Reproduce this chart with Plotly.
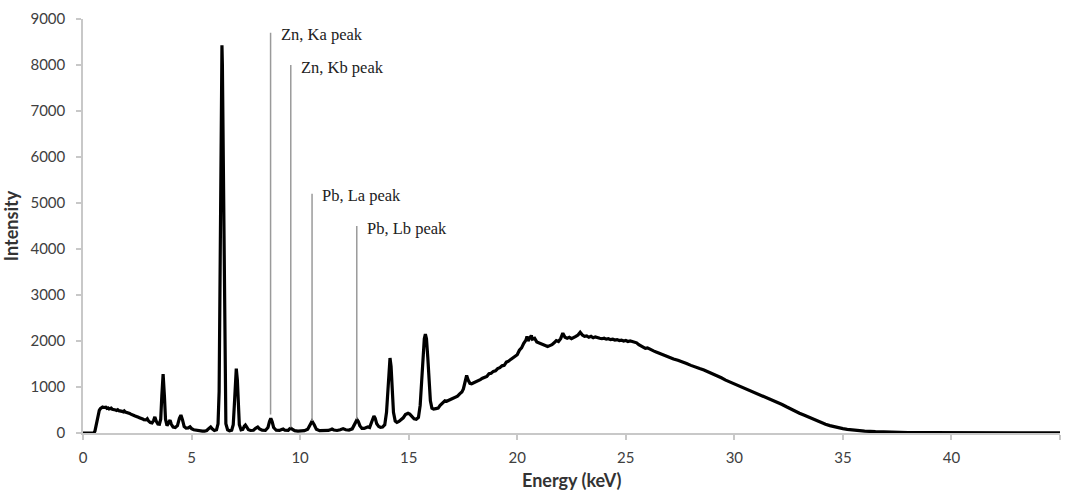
import plotly.graph_objects as go

# XRF spectrum (energy in keV, intensity in counts)
energy_kev = [
    0.0, 0.5, 0.55, 0.6, 0.65, 0.7, 0.75, 0.8, 0.85, 0.9,
    0.95, 1.0, 1.05, 1.1, 1.15, 1.2, 1.25, 1.3, 1.35, 1.4,
    1.45, 1.5, 1.55, 1.6, 1.65, 1.7, 1.75, 1.8, 1.85, 1.9,
    1.95, 2.0, 2.05, 2.1, 2.15, 2.2, 2.25, 2.3, 2.35, 2.4,
    2.45, 2.5, 2.55, 2.6, 2.65, 2.7, 2.75, 2.8, 2.85, 2.9,
    2.96, 3.02, 3.1, 3.18, 3.25, 3.31, 3.37, 3.45, 3.52, 3.58,
    3.63, 3.69, 3.75, 3.8, 3.87, 3.95, 4.01, 4.07, 4.15, 4.25,
    4.35, 4.44, 4.51, 4.58, 4.66, 4.75, 4.85, 4.93, 5.0, 5.1,
    5.2, 5.3, 5.4, 5.5, 5.6, 5.7, 5.8, 5.88, 5.95, 6.05,
    6.15, 6.22, 6.27, 6.31, 6.35, 6.38, 6.4, 6.42, 6.45, 6.49,
    6.53, 6.58, 6.66, 6.75, 6.85, 6.92, 6.97, 7.01, 7.06, 7.11,
    7.15, 7.2, 7.28, 7.36, 7.43, 7.48, 7.53, 7.62, 7.72, 7.85,
    7.95, 8.05, 8.13, 8.25, 8.4, 8.52, 8.59, 8.65, 8.71, 8.78,
    8.9, 9.05, 9.15, 9.22, 9.3, 9.45, 9.52, 9.57, 9.63, 9.75,
    9.9, 10.05, 10.2, 10.35, 10.45, 10.55, 10.65, 10.75, 10.9, 11.1,
    11.3, 11.42, 11.47, 11.55, 11.7, 11.85, 11.98, 12.1, 12.25, 12.4,
    12.5, 12.56, 12.62, 12.68, 12.75, 12.85, 12.95, 13.05, 13.12, 13.2,
    13.28, 13.34, 13.4, 13.46, 13.53, 13.62, 13.7, 13.8, 13.9, 13.98,
    14.04, 14.09, 14.14, 14.19, 14.24, 14.3, 14.38, 14.46, 14.55, 14.65,
    14.75, 14.85, 14.97, 15.05, 15.15, 15.25, 15.35, 15.45, 15.53, 15.6,
    15.66, 15.72, 15.77, 15.82, 15.88, 15.94, 16.0, 16.07, 16.15, 16.25,
    16.36, 16.45, 16.55, 16.67, 16.75, 16.85, 16.95, 17.05, 17.15, 17.25,
    17.35, 17.45, 17.52, 17.6, 17.67, 17.74, 17.82, 17.9, 18.0, 18.1,
    18.2, 18.3, 18.4, 18.5, 18.6, 18.7, 18.8, 18.9, 19.0, 19.1,
    19.2, 19.3, 19.4, 19.5, 19.6, 19.7, 19.8, 19.9, 20.0, 20.1,
    20.2, 20.3, 20.4, 20.45, 20.5, 20.6, 20.65, 20.7, 20.8, 20.9,
    21.0, 21.1, 21.2, 21.3, 21.4, 21.5, 21.6, 21.7, 21.8, 21.9,
    22.0, 22.1, 22.2, 22.3, 22.4, 22.5, 22.6, 22.7, 22.8, 22.9,
    23.0, 23.1, 23.2, 23.3, 23.4, 23.5, 23.6, 23.7, 23.8, 23.9,
    24.0, 24.1, 24.2, 24.3, 24.4, 24.5, 24.6, 24.7, 24.8, 24.9,
    25.0, 25.1, 25.2, 25.3, 25.4, 25.5, 25.6, 25.7, 25.8, 25.9,
    26.0, 26.1, 26.2, 26.3, 26.4, 26.6, 26.8, 27.0, 27.2, 27.4,
    27.6, 27.8, 28.0, 28.2, 28.4, 28.6, 28.8, 29.0, 29.2, 29.4,
    29.6, 29.8, 30.0, 30.2, 30.4, 30.6, 30.8, 31.0, 31.2, 31.4,
    31.6, 31.8, 32.0, 32.2, 32.4, 32.6, 32.8, 33.0, 33.2, 33.4,
    33.6, 33.8, 34.0, 34.2, 34.4, 34.6, 34.8, 35.0, 35.2, 35.4,
    35.6, 35.8, 36.0, 36.5, 37.0, 37.5, 38.0, 39.0, 40.0, 41.0,
    42.0, 43.0, 44.0, 45.0,
]
intensity = [
    0, 0, 40, 150, 300, 420, 490, 530, 555, 565,
    555, 550, 560, 535, 545, 525, 530, 540, 515, 510,
    520, 500, 490, 505, 485, 480, 490, 470, 460, 480,
    455, 450, 440, 430, 425, 410, 405, 395, 380, 370,
    365, 350, 345, 330, 325, 310, 305, 290, 280, 285,
    310, 260, 230, 220, 270, 350, 260, 195, 190, 300,
    800, 1280, 800, 300, 160, 220, 280, 190, 130, 120,
    160, 320, 390, 290, 140, 105, 110, 135, 95, 70,
    60, 50, 45, 40, 40, 55, 100, 130, 90, 55,
    70, 200, 900, 3000, 6500, 8000, 8430, 8000, 6500, 3000,
    900, 200, 70, 50, 60, 180, 600, 1150, 1400, 1150,
    600, 180, 70, 80, 150, 175, 140, 70, 55, 60,
    100, 130, 90, 60, 55, 120, 250, 320, 250, 120,
    60, 55, 75, 85, 60, 55, 90, 105, 85, 50,
    40, 40, 50, 80, 180, 255, 180, 80, 50, 45,
    55, 75, 85, 65, 55, 70, 95, 70, 65, 90,
    180, 260, 290, 250, 160, 100, 100, 120, 130, 120,
    230, 330, 370, 320, 200, 140, 125, 130, 180, 450,
    1000, 1450, 1630, 1450, 1000, 450, 260, 230, 250, 280,
    330, 400, 430, 410, 360, 310, 300, 340, 600, 1100,
    1650, 2050, 2150, 2050, 1650, 1100, 700, 540, 520, 530,
    540, 600, 640, 700, 690, 710, 730, 750, 780, 800,
    850, 890, 960, 1150, 1250, 1150, 1080, 1070, 1090, 1110,
    1130, 1160, 1190, 1220, 1230, 1290, 1300, 1340, 1350, 1400,
    1420, 1460, 1470, 1540, 1560, 1600, 1640, 1680, 1700, 1800,
    1850, 1950, 2020, 2100, 2000, 2080, 2120, 2040, 2060, 1980,
    1960, 1930, 1920, 1900, 1880, 1900, 1920, 1960, 2010, 1990,
    2050, 2170, 2080, 2060, 2080, 2050, 2070, 2100, 2130, 2190,
    2130, 2100, 2110, 2080, 2100, 2070, 2090, 2070, 2060, 2050,
    2060, 2040, 2050, 2030, 2040, 2020, 2030, 2010, 2020, 2000,
    2010, 1990, 2000, 1990, 1980, 1960, 1920, 1890, 1860, 1840,
    1850, 1820, 1800, 1780, 1760, 1720, 1690, 1640, 1610, 1580,
    1550, 1510, 1470, 1430, 1400, 1370, 1330, 1280, 1240, 1200,
    1150, 1110, 1060, 1030, 990, 950, 900, 860, 820, 780,
    740, 700, 660, 620, 570, 520, 480, 430, 390, 350,
    300, 260, 220, 190, 160, 135, 115, 95, 78, 65,
    55, 45, 40, 28, 20, 14, 10, 6, 4, 3,
    2, 2, 1, 1,
]
assert len(energy_kev) == len(intensity)

# Peak markers
marker_labels = ["Zn, Ka peak", "Zn, Kb peak", "Pb, La peak", "Pb, Lb peak"]
marker_energy = [8.64, 9.57, 10.55, 12.61]
marker_top = [8700, 8000, 5200, 4500]
marker_bottom = [400, 120, 260, 300]

x_ticks = [0, 5, 10, 15, 20, 25, 30, 35, 40, 45]
y_ticks = [0, 1000, 2000, 3000, 4000, 5000, 6000, 7000, 8000, 9000]

fig = go.Figure()
fig.add_trace(go.Scatter(
    x=energy_kev, y=intensity, mode="lines",
    line=dict(color="black", width=3.2), showlegend=False, hoverinfo="skip",
))

for lab, xe, yt, yb in zip(marker_labels, marker_energy, marker_top, marker_bottom):
    fig.add_shape(type="line", xref="x", yref="y", x0=xe, x1=xe, y0=yb, y1=yt,
                  line=dict(color="#9a9a9a", width=1.5))
    fig.add_annotation(x=xe, y=yt, xref="x", yref="y", text=lab, showarrow=False,
                       xanchor="left", yanchor="middle", xshift=8, yshift=-2,
                       font=dict(family="Liberation Serif", size=16.5, color="#222"))

tick_font = dict(family="Lato", size=15, color="#404040")
title_font = dict(family="Lato", size=18, color="#333")

# x-axis title placed as a paper annotation so the plot area stays fixed
fig.add_annotation(x=0.5, y=0, xref="paper", yref="paper", text="<b>Energy (keV)</b>",
                   showarrow=False, xanchor="center", yanchor="top", yshift=-34,
                   font=title_font)

fig.update_layout(
    width=1067, height=491,
    margin=dict(l=83, r=7, t=19, b=58, autoexpand=False),
    paper_bgcolor="white", plot_bgcolor="white",
    font=tick_font,
    xaxis=dict(
        range=[0, 45], tickvals=x_ticks, ticktext=[str(v) for v in x_ticks],
        showgrid=False, zeroline=False, showline=True, linecolor="#c8c8c8", linewidth=1.5,
        ticks="outside", ticklen=5, tickcolor="#c8c8c8", tickwidth=1.5,
        tickfont=tick_font, ticklabelstandoff=5,
    ),
    yaxis=dict(
        range=[0, 9000], tickvals=y_ticks, ticktext=[str(v) for v in y_ticks],
        showgrid=False, zeroline=False, showline=True, linecolor="#c8c8c8", linewidth=1.5,
        ticks="outside", ticklen=5, tickcolor="#c8c8c8", tickwidth=1.5,
        tickfont=tick_font, ticklabelstandoff=8,
        title=dict(text="<b>Intensity</b>", font=title_font, standoff=8),
    ),
)

fig.write_html("out.html")
